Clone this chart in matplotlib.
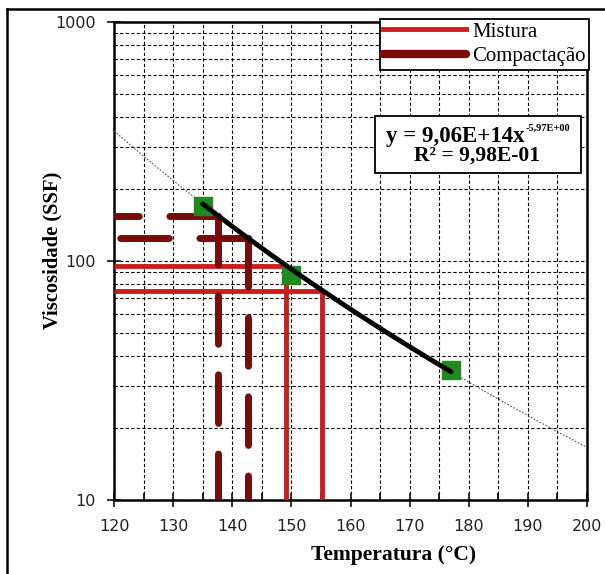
import matplotlib
matplotlib.use("Agg")
import matplotlib.pyplot as plt
import numpy as np
from matplotlib.patches import Rectangle
from matplotlib.lines import Line2D

# measured points (temperature, viscosity)
temp_pts = [135, 150, 177]
visc_pts = [170, 87, 35]

# power-law fit shown on the chart: y = a * x^b
fit_a = 9.06e14
fit_b = -5.97

# mixing range (viscosity limits -> temperatures)
mix_visc = [95, 75]
mix_temp = [149.1, 155.2]
# compaction range
comp_visc = [155, 125]
comp_temp = [137.6, 142.6]

serif = "Liberation Serif"
W, H = 605, 574

fig = plt.figure(figsize=(W / 100, H / 100), dpi=100)
ax = fig.add_axes([114 / W, 1 - 500 / H, (587 - 114) / W, (500 - 22) / H])

ax.set_yscale("log")
ax.set_xlim(120, 200)
ax.set_ylim(10, 1000)

# grid
ax.set_xticks(np.arange(120, 201, 10))
ax.set_xticks(np.arange(125, 200, 10), minor=True)
ax.grid(True, which="both", color="black", lw=0.8, ls=(0, (3, 2)))
ax.set_axisbelow(True)
ax.tick_params(axis="x", which="minor", direction="in", length=5, width=1.2)
ax.tick_params(axis="y", which="minor", length=0, labelleft=False)
ax.tick_params(which="major", direction="inout", length=10, width=1.3,
               labelsize=11.5, colors="#222222")
ax.tick_params(axis="x", which="major", pad=9)
ax.tick_params(axis="y", which="major", pad=8)
ax.set_yticks([10, 100, 1000])
ax.set_yticklabels(["10", "100", "1000"])
for s in ax.spines.values():
    s.set_linewidth(1.8)

# trend line (from the displayed fit)
xt = np.linspace(120, 200, 200)
ax.plot(xt, fit_a * xt ** fit_b, color="#555555", lw=0.8, ls=(0, (1.5, 1.5)), zorder=3)

# mixing lines
red = "#cc1d1d"
for v, t in zip(mix_visc, mix_temp):
    ax.plot([t, 120], [v, v], color=red, lw=3.5, zorder=4, solid_capstyle="butt")
    ax.plot([t, t], [v, 10], color=red, lw=3.5, zorder=4, solid_capstyle="butt")

# compaction lines
dred = "#780c0c"
dash = (0, (7, 4.4))
for v, t in zip(comp_visc, comp_temp):
    ax.plot([t, 120], [v, v], color=dred, lw=5, ls=dash, dash_capstyle="round", zorder=4)
    ax.plot([t, t], [v, 10], color=dred, lw=5, ls=dash, dash_capstyle="round", zorder=4)

# thick fit segment over the data range
xs = np.linspace(temp_pts[0], temp_pts[-1], 100)
ax.plot(xs, fit_a * xs ** fit_b, color="black", lw=3.5, zorder=6, solid_capstyle="round")

ax.plot(temp_pts, visc_pts, ls="", marker="s", ms=12.5, color="#1f8a1f",
        mec="#1f8a1f", zorder=5)

ax.set_xlabel("Temperatura (°C)", family=serif, fontweight="bold", fontsize=15.5)
ax.xaxis.set_label_coords((394 - 114) / 473, -(555 - 500) / 478)
ax.xaxis.label.set_va("center")
ax.set_ylabel("Viscosidade (SSF)", family=serif, fontweight="bold", fontsize=14.8)
ax.yaxis.set_label_coords(-(114 - 52) / 473, (500 - 250) / 478)
ax.yaxis.label.set_va("center")

# legend
handles = [Line2D([], [], color=red, lw=3.5),
           Line2D([], [], color=dred, lw=6, solid_capstyle="round")]
leg = fig.legend(handles, ["Mistura", "Compactação"], loc="upper right",
                 bbox_to_anchor=(589 / W, 1 - 19 / H), prop={"family": serif, "size": 15},
                 frameon=True, fancybox=False, framealpha=1, edgecolor="black",
                 handlelength=4.0, handletextpad=0.3, borderpad=0.15, labelspacing=0.25,
                 borderaxespad=0)
leg.get_frame().set_linewidth(1.3)

# equation box
fig.patches.append(Rectangle((375 / W, 1 - 173 / H), (581 - 375) / W, (173 - 116) / H,
                             transform=fig.transFigure, facecolor="white",
                             edgecolor="black", lw=1.3, zorder=10))
fig.canvas.draw()
r = fig.canvas.get_renderer()
t1 = fig.text(0, 1 - 136 / H, "y = 9,06E+14x", family=serif, fontweight="bold",
              fontsize=16.5, va="center", ha="left", zorder=11)
t2 = fig.text(0, 1 - 133 / H, "-5,97E+00", family=serif, fontweight="bold",
              fontsize=7.5, va="bottom", ha="left", zorder=11)
w1 = t1.get_window_extent(r).width
w2 = t2.get_window_extent(r).width
x0 = 478 - (w1 + w2) / 2
t1.set_x(x0 / W)
t2.set_x((x0 + w1 + 1) / W)
fig.text(477 / W, 1 - 156 / H, "R² = 9,98E-01", family=serif, fontweight="bold",
         fontsize=15.5, va="center", ha="center", zorder=11)

# border lines of the screenshot frame
fig.add_artist(Line2D([7 / W, 7 / W], [0, 1 - 9 / H], color="black", lw=1.8,
                      transform=fig.transFigure))
fig.add_artist(Line2D([7 / W, 1], [1 - 9 / H, 1 - 9 / H], color="black", lw=1.8,
                      transform=fig.transFigure))

fig.savefig("out.png", dpi=100)
